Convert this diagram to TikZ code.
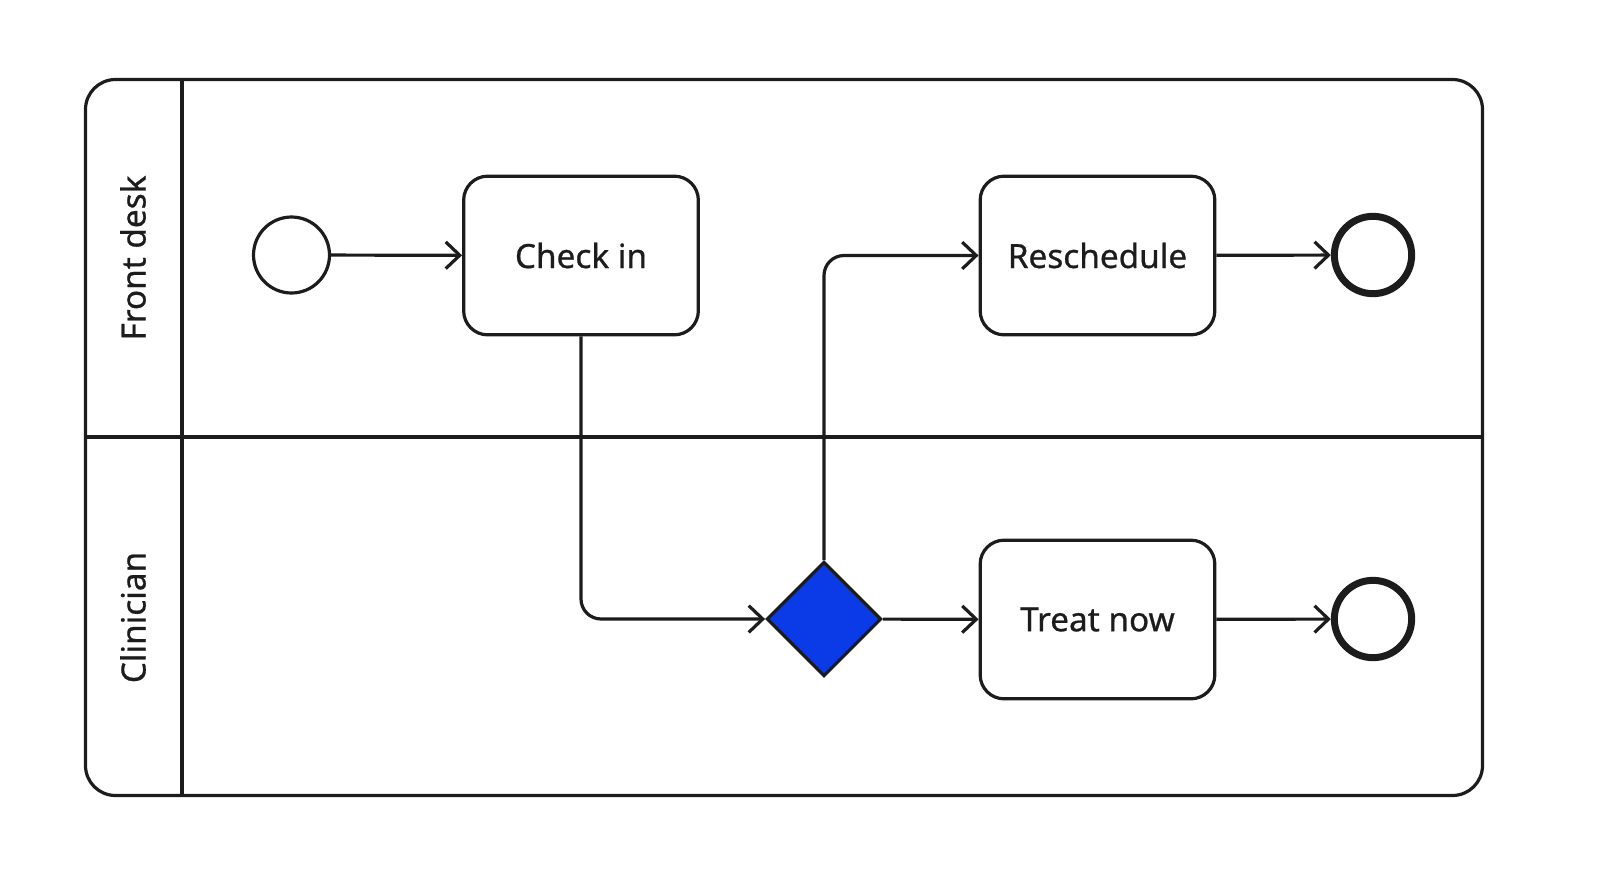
\documentclass[tikz,border=0pt]{standalone}
\usepackage{fontspec}
\setmainfont{Noto Sans}
\newfontfamily\lblfont[FakeBold=0.7]{Noto Sans}
\usetikzlibrary{arrows.meta,shapes.geometric}
\definecolor{ink}{HTML}{1C1C1C}
\definecolor{gateblue}{HTML}{0B3BE6}
\tikzset{
  task/.style={draw=ink, line width=2.4pt, rounded corners=18pt, minimum width=176pt, minimum height=119pt, inner sep=0pt, font=\lblfont\fontsize{25}{29}\selectfont, text=ink},
  startev/.style={draw=ink, line width=2.4pt, circle, minimum size=57pt, inner sep=0pt},
  endev/.style={draw=ink, line width=5.25pt, circle, minimum size=58pt, inner sep=0pt},
  gateway/.style={draw=ink, fill=gateblue, line width=2.4pt, diamond, minimum width=86pt, minimum height=86pt, inner sep=0pt},
  flow/.style={draw=ink, line width=2.4pt, -{Straight Barb[length=10.5pt,width=20pt]}},
  lanelabel/.style={rotate=90, font=\lblfont\fontsize{25}{29}\selectfont, text=ink, inner sep=0pt},
  poolline/.style={draw=ink, line width=2.4pt}
}
\begin{document}
\begin{tikzpicture}[x=0.75pt,y=-0.75pt]
\useasboundingbox (0,0) rectangle (1600,893);
% pool
\draw[poolline, rounded corners=22.5pt] (85.5,79.5) rectangle (1482.5,795.5);
\coordinate (hdtop) at (182,79.5);
\coordinate (hdbot) at (182,795.5);
\coordinate (ldleft) at (85.5,437);
\coordinate (ldright) at (1482.5,437);
\draw[poolline] (hdtop) -- (hdbot);
\draw[poolline] (ldleft) -- (ldright);
% lane labels
\node[lanelabel] (lane1) at (133,258) {Front desk};
\node[lanelabel] (lane2) at (133,617.5) {Clinician};
% nodes
\node[startev] (start) at (291.5,255) {};
\node[task] (checkin) at (581,255.5) {Check in};
\node[task] (resched) at (1097.5,255.5) {Reschedule};
\node[task] (treat) at (1097.5,619.5) {Treat now};
\node[gateway] (gw) at (824,619) {};
\node[endev] (end1) at (1373,255) {};
\node[endev] (end2) at (1373,619) {};
% flows
\draw[flow] (start) -- (checkin);
\draw[flow, rounded corners=15pt] (checkin.south) |- (gw.west);
\draw[flow, rounded corners=15pt] (gw.north) |- (resched.west);
\draw[flow] (gw) -- (treat);
\draw[flow] (resched) -- (end1);
\draw[flow] (treat) -- (end2);
\end{tikzpicture}
\end{document}
